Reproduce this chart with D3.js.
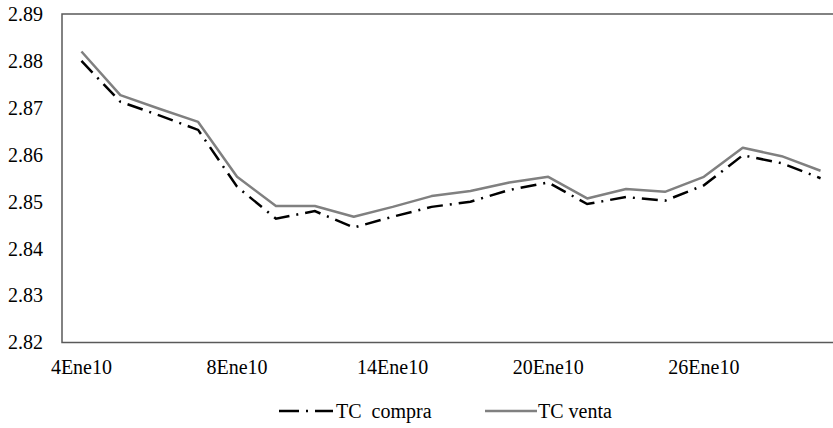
<!DOCTYPE html>
<html>
<head>
<meta charset="utf-8">
<script src="https://cdn.jsdelivr.net/npm/d3@7"></script>
<style>
  body { margin: 0; background: #fff; }
  svg text { font-family: "Liberation Serif", "Times New Roman", Times, "DejaVu Serif", serif !important; }
</style>
</head>
<body>
<script>
var width = 833;
var height = 428;

// business days of January 2010
var days = ["4Ene10","5Ene10","6Ene10","7Ene10","8Ene10","11Ene10","12Ene10","13Ene10","14Ene10","15Ene10",
            "18Ene10","19Ene10","20Ene10","21Ene10","22Ene10","25Ene10","26Ene10","27Ene10","28Ene10","29Ene10"];
var tickLabels = ["4Ene10","8Ene10","14Ene10","20Ene10","26Ene10"];
var yTicks = [2.82, 2.83, 2.84, 2.85, 2.86, 2.87, 2.88, 2.89];

var compra = [2.8800, 2.8713, 2.8684, 2.8653, 2.8532, 2.8464, 2.8480, 2.8445, 2.8468, 2.8489,
              2.8500, 2.8525, 2.8541, 2.8495, 2.8510, 2.8502, 2.8535, 2.8599, 2.8582, 2.8550];
var venta  = [2.8820, 2.8727, 2.8698, 2.8670, 2.8553, 2.8491, 2.8491, 2.8468, 2.8489, 2.8512,
              2.8523, 2.8541, 2.8553, 2.8507, 2.8527, 2.8521, 2.8553, 2.8615, 2.8597, 2.8566];

var plot = {left: 62, top: 14, right: 840, bottom: 342.5};

var x = d3.scaleBand().domain(days).range([plot.left, plot.right]).padding(0);
var y = d3.scaleLinear().domain([2.82, 2.89]).range([plot.bottom, plot.top]);

function cx(d) { return x(d) + x.bandwidth() / 2; }

var svg = d3.select("body").append("svg")
  .attr("width", width)
  .attr("height", height)
  .style("display", "block");

// plot frame
svg.append("rect")
  .attr("x", plot.left)
  .attr("y", plot.top)
  .attr("width", plot.right - plot.left)
  .attr("height", plot.bottom - plot.top)
  .attr("fill", "none")
  .attr("stroke", "#595959")
  .attr("stroke-width", 1.5);

// y axis labels
var yAxis = svg.append("g")
  .attr("transform", "translate(" + plot.left + ",0)")
  .call(d3.axisLeft(y).tickValues(yTicks).tickSize(0).tickPadding(19).tickFormat(d3.format(".2f")));
yAxis.select(".domain").remove();
yAxis.attr("font-family", null).attr("font-size", 20);
yAxis.selectAll("text").attr("fill", "#000");

// x axis labels
var xAxis = svg.append("g")
  .attr("transform", "translate(0," + plot.bottom + ")")
  .call(d3.axisBottom(x).tickValues(tickLabels).tickSize(0).tickPadding(17));
xAxis.select(".domain").remove();
xAxis.attr("font-family", null).attr("font-size", 20);
xAxis.selectAll("text").attr("fill", "#000");

var line = d3.line()
  .x(function (d, i) { return cx(days[i]); })
  .y(function (d) { return y(d); });

svg.append("path")
  .datum(venta)
  .attr("d", line)
  .attr("fill", "none")
  .attr("stroke", "#808080")
  .attr("stroke-width", 2.5)
  .attr("stroke-linejoin", "round");

svg.append("path")
  .datum(compra)
  .attr("d", line)
  .attr("fill", "none")
  .attr("stroke", "#000")
  .attr("stroke-width", 2.5)
  .attr("stroke-dasharray", "16,7,2,7");

// legend
var legend = svg.append("g");
legend.append("line")
  .attr("x1", 279).attr("x2", 333).attr("y1", 411).attr("y2", 411)
  .attr("stroke", "#000").attr("stroke-width", 2.5)
  .attr("stroke-dasharray", "20,7,2,7");
legend.append("text")
  .attr("x", 336).attr("y", 418)
  .attr("font-size", 20)
  .style("white-space", "pre")
  .text("TC  compra");
legend.append("line")
  .attr("x1", 485).attr("x2", 537).attr("y1", 411).attr("y2", 411)
  .attr("stroke", "#808080").attr("stroke-width", 2.5);
legend.append("text")
  .attr("x", 538).attr("y", 418)
  .attr("font-size", 20)
  .text("TC venta");
</script>
</body>
</html>
